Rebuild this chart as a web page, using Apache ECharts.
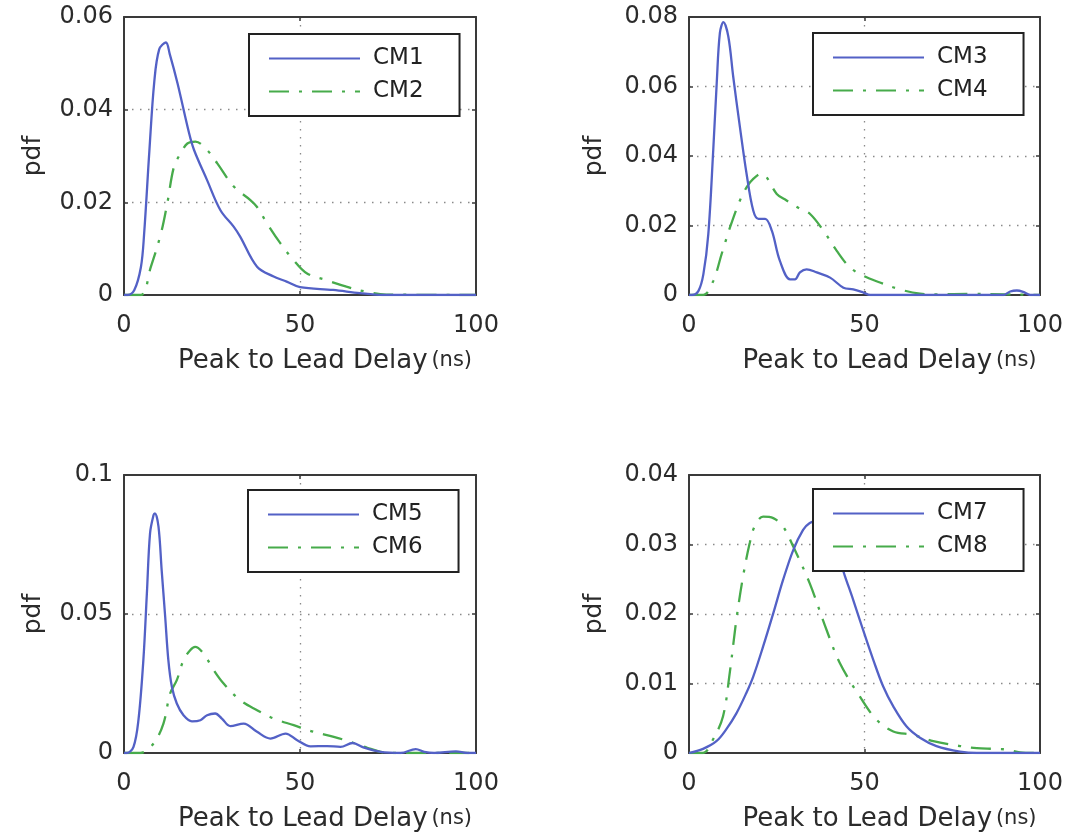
<!DOCTYPE html>
<html>
<head>
<meta charset="utf-8">
<script src="https://cdn.jsdelivr.net/npm/echarts@6/dist/echarts.min.js"></script>
<style>
html,body{margin:0;padding:0;background:#fff;}
#chart{width:1073px;height:836px;}
</style>
</head>
<body>
<div id="chart"></div>
<script>
// ---- data (x in ns, y = pdf) ----
const cm1X = [0, 1, 2.9, 4.8, 5.7, 7.2, 8.6, 10, 11.9, 13, 15.2, 18.5, 19.9, 23.6, 27.4, 31.2, 33, 37.8, 42.5, 46.2, 50, 59.4, 67, 73.5, 100];
const cm1Y = [0, 0, 0.001, 0.006, 0.013, 0.031, 0.046, 0.053, 0.0545, 0.052, 0.0457, 0.0349, 0.0313, 0.0248, 0.0183, 0.0147, 0.0126, 0.0061, 0.004, 0.0029, 0.0017, 0.0011, 0.0004, 0, 0];

const cm2X = [0, 4.8, 7.6, 10.5, 12.3, 14.2, 16.1, 18, 20.3, 23.6, 26.5, 31.2, 35.9, 37.8, 40.6, 44.4, 48.1, 51.9, 57.5, 63.2, 68.8, 74.5, 100];
const cm2Y = [0, 0, 0.006, 0.0133, 0.0198, 0.0277, 0.0306, 0.0327, 0.0331, 0.0313, 0.0284, 0.0234, 0.0205, 0.019, 0.0155, 0.0112, 0.0076, 0.0047, 0.0032, 0.0018, 0.0007, 0.0001, 0];

const cm3X = [0, 0.8, 2.7, 4.1, 5.5, 6.9, 7.9, 8.8, 9.8, 11.2, 12.6, 14.5, 16.4, 18.3, 19.8, 21.7, 23.6, 25.9, 28.8, 30.2, 31.6, 33.5, 36.4, 40.2, 44, 46.8, 49.7, 51.6, 89.6, 91.5, 93.4, 95.2, 97.2, 100];
const cm3Y = [0, 0, 0.0012, 0.006, 0.0175, 0.0416, 0.061, 0.0754, 0.0785, 0.0744, 0.0628, 0.0484, 0.0349, 0.0243, 0.0219, 0.0219, 0.0185, 0.0098, 0.0045, 0.0045, 0.0065, 0.0074, 0.0065, 0.005, 0.0021, 0.0016, 0.0007, 0, 0, 0.001, 0.0013, 0.0009, 0, 0];

const cm4X = [0, 4.1, 6.9, 9.3, 11.7, 14.5, 16.4, 18.3, 20.7, 22.1, 25, 27.8, 31.6, 34.5, 38.3, 42.1, 45.9, 49.7, 54.4, 60.1, 65.8, 70.6, 80, 90, 95, 100];
const cm4Y = [0, 0, 0.004, 0.0118, 0.0195, 0.0272, 0.031, 0.0334, 0.0349, 0.0339, 0.0291, 0.0272, 0.0248, 0.0233, 0.0185, 0.0127, 0.0079, 0.0055, 0.0036, 0.0016, 0.0004, 0.0002, 0.0003, 0.0002, 0.0001, 0];

const cm5X = [0, 0.8, 2.7, 4.1, 5.5, 6.5, 7.4, 8.4, 8.8, 9.8, 10.7, 11.7, 12.6, 13.6, 15, 16.9, 19.3, 21.7, 23.6, 25.9, 27.8, 30.2, 34, 37.8, 41.6, 45.9, 49.2, 53, 57.7, 61.5, 64.9, 68.2, 72.9, 78.6, 82.9, 85.3, 88.1, 94.3, 97.6, 100];
const cm5Y = [0, 0, 0.0022, 0.0118, 0.0334, 0.0574, 0.079, 0.0856, 0.0862, 0.0814, 0.0658, 0.049, 0.0334, 0.0238, 0.0178, 0.0136, 0.0114, 0.0118, 0.0136, 0.0142, 0.0124, 0.0097, 0.0106, 0.0076, 0.0052, 0.007, 0.0046, 0.0024, 0.0025, 0.0022, 0.0036, 0.0019, 0.0004, 0, 0.0014, 0.0004, 0, 0.0006, 0, 0];

const cm6X = [0, 4.6, 8.4, 11.2, 13.1, 15, 16.9, 18.8, 20.2, 22.6, 25.5, 28.3, 33, 37.8, 42.5, 48.2, 53.9, 59.6, 64.4, 69.1, 72.9, 76.7, 100];
const cm6Y = [0, 0, 0.0034, 0.0106, 0.0214, 0.0262, 0.0334, 0.037, 0.0382, 0.0358, 0.0298, 0.025, 0.019, 0.0154, 0.0124, 0.01, 0.0076, 0.0058, 0.004, 0.0019, 0.0004, 0, 0];

const cm7X = [0, 4, 7.8, 10.6, 13.5, 16.3, 18.3, 21.1, 24, 26.8, 29.7, 32.5, 34.4, 36.5, 38.5, 41.1, 44.4, 46.8, 49.6, 52.5, 55.3, 58.2, 62, 65.8, 70.5, 77.2, 82, 100];
const cm7Y = [0, 0.0006, 0.0017, 0.0034, 0.0057, 0.0086, 0.011, 0.0153, 0.0201, 0.0249, 0.0292, 0.0321, 0.0331, 0.0334, 0.0329, 0.0305, 0.0255, 0.022, 0.0177, 0.0134, 0.0096, 0.0067, 0.0038, 0.0022, 0.001, 0.0002, 0, 0];

const cm8X = [0, 4, 6.8, 9.7, 11.6, 13.5, 15.4, 17.3, 18.7, 21.1, 24, 26.8, 29.7, 34.4, 39.2, 43, 48.7, 53.4, 58.2, 63.9, 69.6, 77.2, 82, 86.7, 90.5, 94.3, 100];
const cm8Y = [0, 0, 0.0019, 0.0053, 0.0115, 0.0192, 0.0254, 0.0302, 0.0326, 0.034, 0.0338, 0.0326, 0.0297, 0.0244, 0.0177, 0.0129, 0.0081, 0.0048, 0.0031, 0.0026, 0.0017, 0.001, 0.0007, 0.0006, 0.0005, 0.0001, 0];

const seriesNames = ['CM1', 'CM2', 'CM3', 'CM4', 'CM5', 'CM6', 'CM7', 'CM8'];
const xTicks = [0, 50, 100];
const yMax = [0.06, 0.08, 0.1, 0.04];
const yStep = [0.02, 0.02, 0.05, 0.01];
const xLabel = 'Peak to Lead Delay';
const xUnit = '(ns)';
const yLabel = 'pdf';

// ---- layout / styles ----
const FONT = 'DejaVu Sans';
const TXT = '#2b2b2b';
const FRAME = '#3a3a3a';
const BLUE = '#5361c6';
const GREEN = '#47ab4b';
const grids = [
  {left: 124, top: 17, width: 352, height: 278},
  {left: 689, top: 17, width: 351, height: 278},
  {left: 124, top: 475, width: 352, height: 278},
  {left: 689, top: 475, width: 351, height: 278}
];
const legendPos = [
  {left: 249, top: 34},
  {left: 813, top: 33},
  {left: 248, top: 490},
  {left: 813, top: 489}
];
const yNameGap = [78, 82, 78, 82];

function pairs(xs, ys) { return xs.map((x, i) => [x, ys[i]]); }
const seriesData = [
  pairs(cm1X, cm1Y), pairs(cm2X, cm2Y), pairs(cm3X, cm3Y), pairs(cm4X, cm4Y),
  pairs(cm5X, cm5Y), pairs(cm6X, cm6Y), pairs(cm7X, cm7Y), pairs(cm8X, cm8Y)
];

const gridLine = {show: true, showMinLine: false, showMaxLine: false, lineStyle: {color: '#8a8a8a', width: 1.3, type: [1.5, 6.5]}};
const tick = {show: true, inside: true, length: 4, lineStyle: {color: FRAME, width: 1.5}};

const xAxes = [];
const yAxes = [];
grids.forEach((g, i) => {
  xAxes.push({
    type: 'value', gridIndex: i, position: 'bottom',
    min: xTicks[0], max: xTicks[xTicks.length - 1], interval: xTicks[1] - xTicks[0],
    axisLine: {show: true, onZero: false, lineStyle: {color: FRAME, width: 2}},
    axisTick: tick,
    axisLabel: {color: TXT, fontSize: 24, fontFamily: FONT, margin: 19},
    splitLine: gridLine,
    name: '{p|}{a|' + xLabel + '} {b|' + xUnit + '}',
    nameLocation: 'middle', nameGap: 53,
    nameTextStyle: {
      rich: {
        p: {width: 50, fontSize: 26},
        a: {fontSize: 26, color: TXT, fontFamily: FONT},
        b: {fontSize: 21, color: TXT, fontFamily: FONT}
      }
    }
  });
  // top frame ticks
  xAxes.push({
    type: 'value', gridIndex: i, position: 'top',
    min: xTicks[0], max: xTicks[xTicks.length - 1], interval: xTicks[1] - xTicks[0],
    axisLine: {show: true, onZero: false, lineStyle: {color: FRAME, width: 2}},
    axisTick: tick, axisLabel: {show: false}, splitLine: {show: false}
  });
  yAxes.push({
    type: 'value', gridIndex: i, position: 'left', min: 0, max: yMax[i], interval: yStep[i],
    axisLine: {show: true, onZero: false, lineStyle: {color: FRAME, width: 2}},
    axisTick: tick,
    axisLabel: {color: TXT, fontSize: 24, fontFamily: FONT, margin: 11},
    splitLine: gridLine,
    name: yLabel, nameLocation: 'middle', nameGap: yNameGap[i],
    nameTextStyle: {fontSize: 25, color: TXT, fontFamily: FONT}
  });
  // right frame ticks
  yAxes.push({
    type: 'value', gridIndex: i, position: 'right', min: 0, max: yMax[i], interval: yStep[i],
    axisLine: {show: true, onZero: false, lineStyle: {color: FRAME, width: 2}},
    axisTick: tick, axisLabel: {show: false}, splitLine: {show: false}
  });
});

const option = {
  animation: false,
  backgroundColor: '#fff',
  textStyle: {fontFamily: FONT},
  grid: grids.map(g => Object.assign({show: false}, g)),
  xAxis: xAxes,
  yAxis: yAxes,
  legend: legendPos.map((p, i) => ({
    data: [seriesNames[2 * i], seriesNames[2 * i + 1]],
    orient: 'vertical', left: p.left, top: p.top,
    itemWidth: 91, itemHeight: 24, itemGap: 10,
    padding: [13, 36, 13, 19],
    backgroundColor: '#fff', borderColor: '#222', borderWidth: 2, borderRadius: 0,
    itemStyle: {color: 'rgba(0,0,0,0)', borderWidth: 0, opacity: 0},
    textStyle: {fontSize: 23, color: '#222', fontFamily: FONT, padding: [0, 0, 0, 8]},
    selectedMode: false
  })),
  series: seriesData.map((d, k) => {
    const solid = k % 2 === 0;
    const gi = Math.floor(k / 2);
    return {
      name: seriesNames[k], type: 'line', xAxisIndex: 2 * gi, yAxisIndex: 2 * gi,
      data: d, smooth: 0.35, symbol: 'none', clip: true,
      lineStyle: {color: solid ? BLUE : GREEN, width: 2.3, type: solid ? 'solid' : [20, 10, 3, 10]},
      itemStyle: {color: solid ? BLUE : GREEN},
      z: solid ? 3 : 2
    };
  })
};

const chart = echarts.init(document.getElementById('chart'), null, {renderer: 'canvas'});
chart.setOption(option);
</script>
</body>
</html>
